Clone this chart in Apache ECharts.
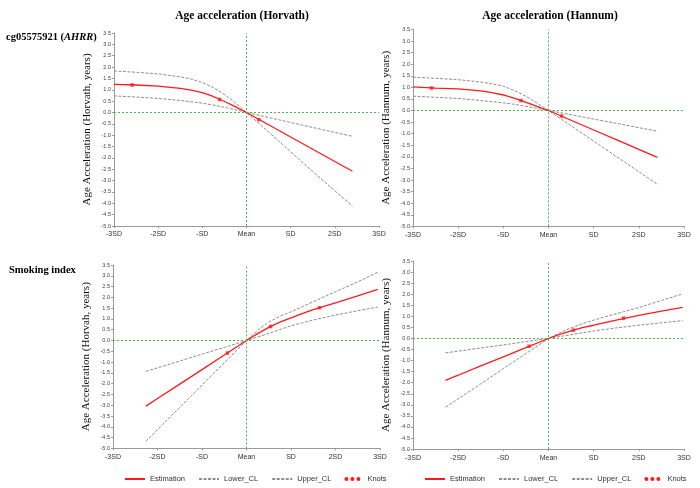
<!DOCTYPE html>
<html>
<head>
<meta charset="utf-8">
<script src="https://cdn.jsdelivr.net/npm/echarts@6/dist/echarts.min.js"></script>
<style>html,body{margin:0;padding:0;background:#fff}#c{width:700px;height:488px}</style>
</head>
<body>
<div id="c"></div>
<script>
// ---- Data ----
var xTickLabels = ['-3SD', '-2SD', '-SD', 'Mean', 'SD', '2SD', '3SD'];
var colTitles = ['Age acceleration (Horvath)', 'Age acceleration (Hannum)'];
var yNames = ['Age Acceleration (Horvath, years)', 'Age Acceleration (Hannum, years)',
              'Age Acceleration (Horvah, years)', 'Age Acceleration (Hannum, years)'];

// Panel A: cg05575921 (AHRR) - Horvath
var xA = [-3, -2.5, -2, -1.5, -1.25, -1, -0.8, -0.6, -0.45, -0.3, -0.15, 0, 0.5, 1, 1.5, 2, 2.4];
var estA = [1.24, 1.21, 1.16, 1.06, 0.98, 0.87, 0.74, 0.57, 0.44, 0.30, 0.15, 0, -0.54, -1.08, -1.62, -2.16, -2.59];
var upA = [1.83, 1.77, 1.70, 1.57, 1.47, 1.32, 1.15, 0.92, 0.72, 0.50, 0.26, 0, -0.86, -1.73, -2.60, -3.45, -4.12];
var loA = [0.73, 0.68, 0.62, 0.53, 0.47, 0.41, 0.34, 0.27, 0.21, 0.14, 0.07, 0, -0.22, -0.44, -0.66, -0.88, -1.05];
var knotXA = [-2.59, -0.61, 0.28];
var knotYA = [1.21, 0.57, -0.32];

// Panel B: cg05575921 (AHRR) - Hannum
var xB = [-3, -2.5, -2, -1.5, -1.25, -1, -0.8, -0.6, -0.45, -0.3, -0.15, 0, 0.5, 1, 1.5, 2, 2.41];
var estB = [1.02, 0.97, 0.93, 0.85, 0.77, 0.67, 0.56, 0.43, 0.32, 0.21, 0.10, 0, -0.42, -0.84, -1.26, -1.68, -2.02];
var upB = [1.44, 1.39, 1.33, 1.23, 1.15, 1.05, 0.90, 0.72, 0.56, 0.38, 0.19, 0, -0.66, -1.32, -1.98, -2.64, -3.18];
var loB = [0.62, 0.57, 0.52, 0.43, 0.38, 0.33, 0.28, 0.22, 0.17, 0.11, 0.05, 0, -0.18, -0.37, -0.55, -0.74, -0.89];
var knotXB = [-2.59, -0.61, 0.29];
var knotYB = [0.97, 0.43, -0.24];

// Panel C: Smoking index - Horvath
var xC = [-2.26, -2, -1.5, -1, -0.5, 0, 0.25, 0.5, 0.75, 1, 1.25, 1.5, 2, 2.5, 2.95];
var estC = [-3.04, -2.69, -2.02, -1.35, -0.67, 0, 0.32, 0.61, 0.85, 1.05, 1.25, 1.43, 1.75, 2.07, 2.37];
var upC = [-4.67, -4.13, -3.10, -2.07, -1.03, 0, 0.47, 0.86, 1.12, 1.33, 1.56, 1.80, 2.26, 2.72, 3.16];
var loC = [-1.43, -1.27, -0.95, -0.63, -0.32, 0, 0.16, 0.33, 0.51, 0.68, 0.82, 0.95, 1.18, 1.38, 1.55];
var knotXC = [-0.43, 0.54, 1.64];
var knotYC = [-0.58, 0.65, 1.52];

// Panel D: Smoking index - Hannum
var xD = [-2.28, -2, -1.5, -1, -0.5, 0, 0.25, 0.5, 0.75, 1, 1.25, 1.5, 2, 2.5, 2.97];
var estD = [-1.89, -1.66, -1.24, -0.83, -0.41, 0, 0.19, 0.35, 0.49, 0.60, 0.72, 0.83, 1.05, 1.24, 1.41];
var upD = [-3.11, -2.73, -2.05, -1.36, -0.68, 0, 0.26, 0.48, 0.67, 0.83, 0.98, 1.12, 1.40, 1.72, 2.02];
var loD = [-0.65, -0.57, -0.43, -0.29, -0.14, 0, 0.09, 0.17, 0.26, 0.34, 0.41, 0.48, 0.60, 0.71, 0.81];
var knotXD = [-0.43, 0.55, 1.66];
var knotYD = [-0.35, 0.38, 0.92];

// ---- Build ----
function pairs(xs, ys) { return xs.map(function (x, i) { return [x, ys[i]]; }); }
var panels = [
  { x: xA, est: estA, up: upA, lo: loA, kx: knotXA, ky: knotYA },
  { x: xB, est: estB, up: upB, lo: loB, kx: knotXB, ky: knotYB },
  { x: xC, est: estC, up: upC, lo: loC, kx: knotXC, ky: knotYC },
  { x: xD, est: estD, up: upD, lo: loD, kx: knotXD, ky: knotYD }
];
var grids = [
  { left: 114, top: 33, width: 265, height: 193 },
  { left: 413, top: 29.4, width: 271, height: 197 },
  { left: 113, top: 265, width: 267, height: 183.4 },
  { left: 413, top: 261.1, width: 271, height: 188 }
];
var serif = "'Liberation Serif', 'DejaVu Serif', serif";
var sans = "'Liberation Sans', Arial, sans-serif";
var red = '#ff1a1a', gray = '#8e8e8e', green = '#4cb84c';

var refStyle = { color: green, type: [2, 2], width: 1, opacity: 1 };
var xAxes = [], yAxes = [], series = [];
grids.forEach(function (g, i) {
  xAxes.push({
    gridIndex: i, type: 'value', min: -3, max: 3, interval: 1,
    splitLine: { show: false },
    axisLine: { onZero: false, lineStyle: { color: '#9a9a9a', width: 1 } },
    axisTick: { length: 2, lineStyle: { color: '#9a9a9a' } },
    axisLabel: { fontSize: 7, color: '#333', margin: 5, fontFamily: sans,
      formatter: function (v) { return xTickLabels[Math.round(v) + 3]; } }
  });
  yAxes.push({
    gridIndex: i, type: 'value', min: -5, max: 3.5, interval: 0.5,
    name: yNames[i], nameLocation: 'middle', nameGap: 21,
    nameTextStyle: { fontFamily: serif, fontSize: 11, color: '#111' },
    splitLine: { show: false },
    axisLine: { onZero: false, lineStyle: { color: '#9a9a9a', width: 1 } },
    axisTick: { length: 2, lineStyle: { color: '#9a9a9a' } },
    axisLabel: { fontSize: 5.5, color: '#444', margin: 3, fontFamily: sans,
      formatter: function (v) { return v.toFixed(1); } }
  });
  var p = panels[i];
  // reference lines at Mean and 0
  series.push({
    name: 'ref', type: 'line', xAxisIndex: i, yAxisIndex: i, data: [],
    silent: true, z: 2, color: green,
    itemStyle: { color: green }, lineStyle: { color: green },
    markLine: {
      silent: true, symbol: 'none', label: { show: false }, animation: false,
      lineStyle: refStyle,
      emphasis: { disabled: true },
      data: [{ xAxis: 0, lineStyle: refStyle }, { yAxis: 0, lineStyle: refStyle }]
    }
  });
  series.push({
    name: 'Estimation', type: 'line', xAxisIndex: i, yAxisIndex: i,
    data: pairs(p.x, p.est), smooth: false,
    symbol: 'none', showSymbol: false,
    lineStyle: { color: red, width: 1.3 }, itemStyle: { color: red }, z: 4
  });
  series.push({
    name: 'Lower_CL', type: 'line', xAxisIndex: i, yAxisIndex: i,
    data: pairs(p.x, p.lo), smooth: false,
    symbol: 'none', showSymbol: false,
    lineStyle: { color: gray, width: 1, type: [3, 1.5] }, itemStyle: { color: gray }, z: 3
  });
  series.push({
    name: 'Upper_CL', type: 'line', xAxisIndex: i, yAxisIndex: i,
    data: pairs(p.x, p.up), smooth: false,
    symbol: 'none', showSymbol: false,
    lineStyle: { color: gray, width: 1, type: [3, 1.5] }, itemStyle: { color: gray }, z: 3
  });
  series.push({
    name: 'Knots', type: 'scatter', xAxisIndex: i, yAxisIndex: i,
    data: pairs(p.kx, p.ky), symbol: 'rect', symbolSize: 3.5,
    itemStyle: { color: red }, z: 5
  });
});

var knotIcon = 'path://M0,2.5a2.5,2.5 0 1,0 5,0a2.5,2.5 0 1,0 -5,0Z M7.5,2.5a2.5,2.5 0 1,0 5,0a2.5,2.5 0 1,0 -5,0Z M15,2.5a2.5,2.5 0 1,0 5,0a2.5,2.5 0 1,0 -5,0Z';
function legendAt(left) {
  return {
    left: left, top: 470, itemWidth: 20, itemHeight: 4, itemGap: 13,
    selectedMode: false,
    itemStyle: { opacity: 0 },
    textStyle: { fontSize: 7.5, color: '#333', fontFamily: sans },
    data: ['Estimation', 'Lower_CL', 'Upper_CL',
      { name: 'Knots', icon: knotIcon, itemStyle: { opacity: 1, color: red } }]
  };
}

var option = {
  backgroundColor: '#fff',
  animation: false,
  title: [
    { text: colTitles[0], left: 237, top: 5, textAlign: 'center',
      textStyle: { fontFamily: serif, fontWeight: 'bold', fontSize: 11.5, color: '#000' } },
    { text: colTitles[1], left: 545, top: 5, textAlign: 'center',
      textStyle: { fontFamily: serif, fontWeight: 'bold', fontSize: 11.5, color: '#000' } },
    { text: '{b|cg05575921 (}{i|AHRR}{b|)}', left: 1, top: 27,
      textStyle: { rich: {
        b: { fontFamily: serif, fontWeight: 'bold', fontSize: 10.5, color: '#000' },
        i: { fontFamily: serif, fontWeight: 'bold', fontStyle: 'italic', fontSize: 10.5, color: '#000' } } } },
    { text: 'Smoking index', left: 4, top: 260,
      textStyle: { fontFamily: serif, fontWeight: 'bold', fontSize: 10.5, color: '#000' } }
  ],
  grid: grids,
  xAxis: xAxes,
  yAxis: yAxes,
  legend: [legendAt(119), legendAt(419)],
  series: series
};
var chart = echarts.init(document.getElementById('c'), null, { renderer: 'canvas' });
chart.setOption(option);
</script>
</body>
</html>
